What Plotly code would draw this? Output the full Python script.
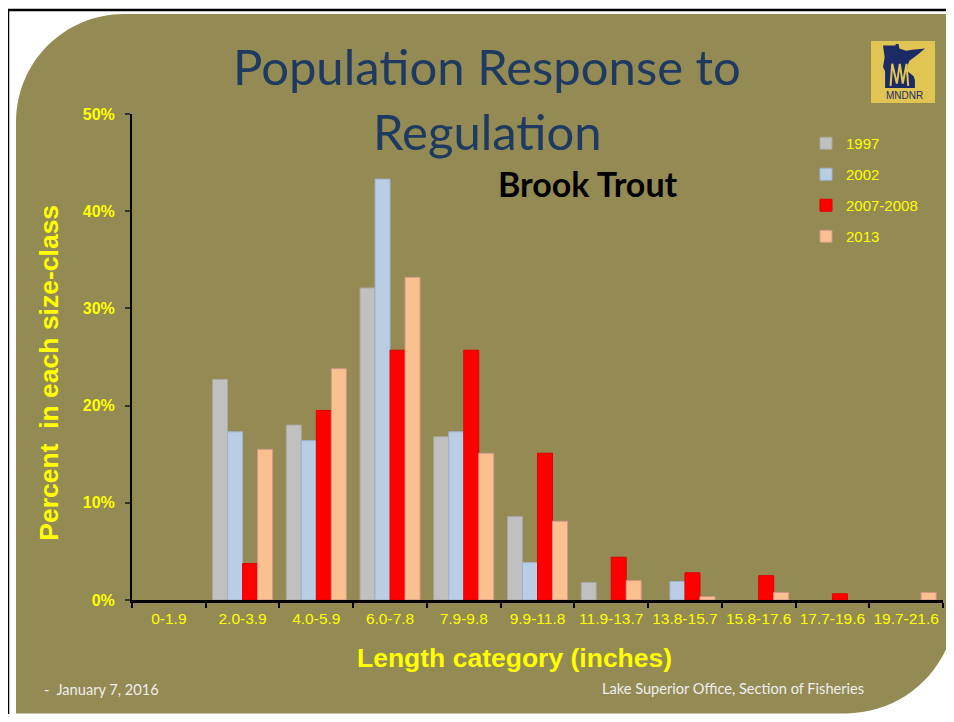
import plotly.graph_objects as go

# ---------------- data ----------------
categories = ["0-1.9", "2.0-3.9", "4.0-5.9", "6.0-7.8", "7.9-9.8", "9.9-11.8",
              "11.9-13.7", "13.8-15.7", "15.8-17.6", "17.7-19.6", "19.7-21.6"]
series_names = ["1997", "2002", "2007-2008", "2013"]
pct_1997 = [0, 22.7, 18.0, 32.1, 16.8, 8.6, 1.8, 0, 0, 0, 0]
pct_2002 = [0, 17.3, 16.4, 43.3, 17.3, 3.85, 0, 1.9, 0, 0, 0]
pct_2007_2008 = [0, 3.75, 19.5, 25.7, 25.7, 15.1, 4.4, 2.8, 2.5, 0.64, 0]
pct_2013 = [0, 15.5, 23.8, 33.2, 15.1, 8.1, 2.0, 0.35, 0.77, 0, 0.77]
y_ticks = [0, 10, 20, 30, 40, 50]
y_tick_labels = ["0%", "10%", "20%", "30%", "40%", "50%"]

# ---------------- geometry helpers (page pixel -> paper) ----------------
OFF = 8                      # page body margin
W, H = 946, 706
L, R, T, B = 124, 11, 106, 113.5
PW, PH = W - L - R, H - T - B


def px(x):
    return (x - OFF - L) / PW


def py(y):
    return (H - B - (y - OFF)) / PH


OLIVE = "#948A54"
YELLOW = "#FFFF00"
NAVY = "#1F3A60"

fig = go.Figure()
styles = [
    ("#C0C0C0", "#A8A8A0"),
    ("#B9CDE5", "#9DB3CC"),
    ("#FF0000", "#E00000"),
    ("#FAC090", "#D0988A"),
]
for i, (name, vals) in enumerate(zip(series_names, [pct_1997, pct_2002, pct_2007_2008, pct_2013])):
    fill, line = styles[i]
    fig.add_trace(go.Bar(
        x=categories, y=[v if v > 0 else None for v in vals], name=name, legendgroup=name,
        marker=dict(color=fill, line=dict(color=line, width=1)),
    ))

# ---------------- background shapes ----------------
shapes = []
shapes.append(dict(type="rect", xref="paper", yref="paper",
                   x0=px(8), x1=px(1000), y0=py(800), y1=py(10),
                   line=dict(color="black", width=2.5), fillcolor="white", layer="below"))
x0, x1, y0, y1 = 16, 956, 14, 714
r1, r2 = 108, 110
k = 0.5523
path = (
    f"M {px(x0)},{py(y0 + r1)} "
    f"C {px(x0)},{py(y0 + r1 - k * r1)} {px(x0 + r1 - k * r1)},{py(y0)} {px(x0 + r1)},{py(y0)} "
    f"L {px(x1)},{py(y0)} "
    f"L {px(x1)},{py(y1 - r2)} "
    f"C {px(x1)},{py(y1 - r2 + k * r2)} {px(x1 - r2 + k * r2)},{py(y1)} {px(x1 - r2)},{py(y1)} "
    f"L {px(x0)},{py(y1)} Z"
)
shapes.append(dict(type="path", xref="paper", yref="paper", path=path,
                   fillcolor=OLIVE, line=dict(width=0), layer="below"))
# logo
shapes.append(dict(type="rect", xref="paper", yref="paper",
                   x0=px(871), x1=px(935), y0=py(103), y1=py(41),
                   fillcolor="#E0C552", line=dict(width=0), layer="below"))
mn = [(0.00, 0.03), (0.30, 0.03), (0.30, 0.0), (0.37, 0.0), (0.39, 0.10), (0.55, 0.15),
      (0.70, 0.13), (1.00, 0.10), (0.80, 0.26), (0.63, 0.38), (0.58, 0.50), (0.60, 0.63),
      (0.73, 0.73), (0.76, 0.82), (0.76, 1.00), (0.05, 1.00), (0.05, 0.62), (0.00, 0.52),
      (0.04, 0.30)]
lx0, lx1, ly0, ly1 = 883, 925, 44, 88
mnpath = "M " + " L ".join(f"{px(lx0 + a * (lx1 - lx0))},{py(ly0 + b * (ly1 - ly0))}" for a, b in mn) + " Z"
shapes.append(dict(type="path", xref="paper", yref="paper", path=mnpath,
                   fillcolor="#1C2A66", line=dict(width=0), layer="below"))
mpts = [(0.18, 0.95), (0.22, 0.45), (0.33, 0.90), (0.40, 0.45), (0.47, 0.90), (0.56, 0.45), (0.60, 0.95)]
mpath = "M " + " L ".join(f"{px(lx0 + a * (lx1 - lx0))},{py(ly0 + b * (ly1 - ly0))}" for a, b in mpts)
shapes.append(dict(type="path", xref="paper", yref="paper", path=mpath,
                   line=dict(color="#E0C552", width=2), layer="below"))

# ---------------- text ----------------
ann = []


def add_text(text, x, y, size, color, family, xanchor="center", yanchor="middle", angle=0):
    ann.append(dict(text=text, x=px(x), y=py(y), xref="paper", yref="paper",
                    showarrow=False, xanchor=xanchor, yanchor=yanchor, textangle=angle,
                    font=dict(size=size, color=color, family=family)))


add_text("Population Response to", 487, 66, 49, NAVY, "Lato")
add_text("Regulation", 487, 131, 49, NAVY, "Lato")
add_text("<b>Brook Trout</b>", 588, 184, 34, "black", "Lato")
add_text("<b>Length category (inches)</b>", 514, 659, 26.5, YELLOW, "Liberation Sans, Arial")
add_text("<b>Percent\u00a0 in each size-class</b>", 49, 373, 26.5, YELLOW, "Liberation Sans, Arial", angle=-90)
add_text("-\u00a0 January 7, 2016", 42, 690, 14.6, "#EFEFEF", "Lato", xanchor="left")
add_text("Lake Superior Office, Section of Fisheries", 866, 689, 14.6, "#EFEFEF", "Lato", xanchor="right")
add_text("MNDNR", 904, 95, 10, "#1C2A66", "Liberation Sans Narrow, Arial Narrow, sans-serif")

fig.update_layout(
    template="none",
    width=W, height=H,
    margin=dict(l=L, r=R, t=T, b=B, pad=0),
    paper_bgcolor="white",
    plot_bgcolor="rgba(0,0,0,0)",
    barmode="group", bargap=0.186, bargroupgap=0,
    shapes=shapes, annotations=ann,
    showlegend=True,
    legend=dict(x=px(806), y=py(127), xanchor="left", yanchor="top",
                bgcolor="rgba(0,0,0,0)", tracegroupgap=8.5,
                font=dict(size=15, color=YELLOW, family="Liberation Sans, Arial")),
    xaxis=dict(type="category", categoryorder="array", categoryarray=categories,
               tickson="boundaries", ticks="outside", ticklen=5, tickwidth=2, tickcolor="black",
               showline=True, linecolor="black", linewidth=3, showgrid=False, zeroline=False,
               ticklabelstandoff=2, tickangle=0,
               tickfont=dict(size=15.5, color=YELLOW, family="Liberation Sans, Arial"),
               automargin=False),
    yaxis=dict(range=[0, 50], tickmode="array", tickvals=y_ticks,
               ticktext=[f"<b>{t}</b>" for t in y_tick_labels],
               ticks="outside", ticklen=5,
               tickwidth=2, tickcolor="#333333", showline=True, linecolor="black", linewidth=2,
               showgrid=False, zeroline=False, ticklabelstandoff=7,
               tickfont=dict(size=16, color=YELLOW, family="Liberation Sans, Arial"),
               automargin=False),
)

fig.write_html("out.html")
